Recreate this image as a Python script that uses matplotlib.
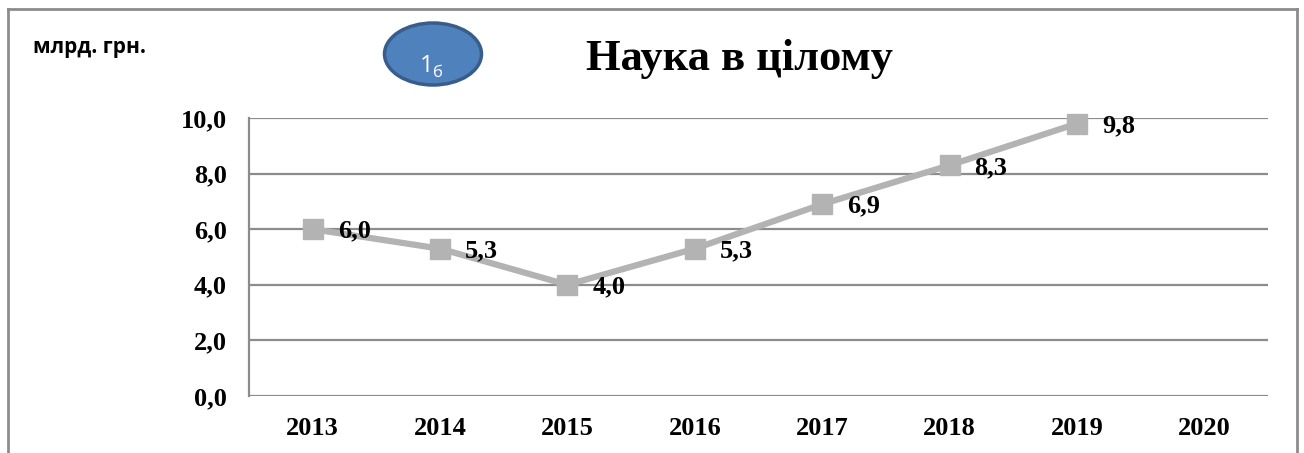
import matplotlib
matplotlib.use("Agg")
import matplotlib.pyplot as plt
from matplotlib.patches import Ellipse
from matplotlib.lines import Line2D

years = ["2013", "2014", "2015", "2016", "2017", "2018", "2019", "2020"]
values = [6.0, 5.3, 4.0, 5.3, 6.9, 8.3, 9.8]
labels = ["6,0", "5,3", "4,0", "5,3", "6,9", "8,3", "9,8"]
yticks = [0, 2, 4, 6, 8, 10]
ytick_labels = ["0,0", "2,0", "4,0", "6,0", "8,0", "10,0"]

W, H = 1304, 453
fig = plt.figure(figsize=(W / 100, H / 100), dpi=100)
fig.patch.set_facecolor("white")

SERIF = "Liberation Serif"

# plot area in pixels: left 249, right 1268, top 118, bottom 396
ax = fig.add_axes([249 / W, 1 - 396 / H, (1268 - 249) / W, (396 - 118) / H])
ax.set_xlim(-0.5, len(years) - 0.5)
ax.set_ylim(0, 10)
grid_c = "#8c8c8c"
for t in yticks:
    ax.axhline(t, color=grid_c, lw=1.6, zorder=1)
for s in ["top", "right", "bottom"]:
    ax.spines[s].set_visible(False)
ax.spines["left"].set_color(grid_c)
ax.spines["left"].set_linewidth(1.6)
ax.tick_params(length=0)
ax.set_yticks(yticks)
ax.set_yticklabels(ytick_labels, fontsize=19, fontweight="bold", family=SERIF)
ax.set_xticks(range(len(years)))
ax.set_xticklabels(years, fontsize=19, fontweight="bold", family=SERIF)
ax.tick_params(axis="x", pad=15)
ax.tick_params(axis="y", pad=16)

xs = list(range(len(values)))
ax.plot(xs, values, color="#b3b3b3", lw=4.5, marker="s", markersize=15,
        markerfacecolor="#b3b3b3", markeredgecolor="#b3b3b3", zorder=3, clip_on=False)
for x, v, l in zip(xs, values, labels):
    ax.annotate(l, (x, v), xytext=(18, -1.5), textcoords="offset points",
                ha="left", va="center", fontsize=19, fontweight="bold",
                family=SERIF, zorder=4)

# outer frame
fc = "#8c8c8c"
fig.add_artist(Line2D([8 / W, 8 / W], [0, 1 - 9 / H], color=fc, lw=2, transform=fig.transFigure))
fig.add_artist(Line2D([8 / W, 1297 / W], [1 - 9 / H, 1 - 9 / H], color=fc, lw=2, transform=fig.transFigure))
fig.add_artist(Line2D([1297 / W, 1297 / W], [0, 1 - 9 / H], color=fc, lw=2, transform=fig.transFigure))

# title
fig.text(739 / W, 1 - 70 / H, "Наука в цілому", ha="center", va="baseline",
         fontsize=32, fontweight="bold", family=SERIF)
# unit label
fig.text(33 / W, 1 - 48 / H, "млрд. грн.", ha="left", va="center",
         fontsize=15, fontweight="bold", family="Open Sans")

# ellipse badge
el = Ellipse((433 / W, 1 - 54 / H), 97 / W, 62 / H, transform=fig.transFigure,
             facecolor="#4f81bd", edgecolor="#385d8a", lw=2.5)
fig.add_artist(el)
fig.text(433 / W, 1 - 72 / H, "1", ha="right", va="baseline", fontsize=17,
         color="white", family="Open Sans")
fig.text(433 / W, 1 - 77 / H, "б", ha="left", va="baseline", fontsize=12,
         color="white", family="Open Sans")

fig.savefig("out.png", dpi=100, facecolor="white")
